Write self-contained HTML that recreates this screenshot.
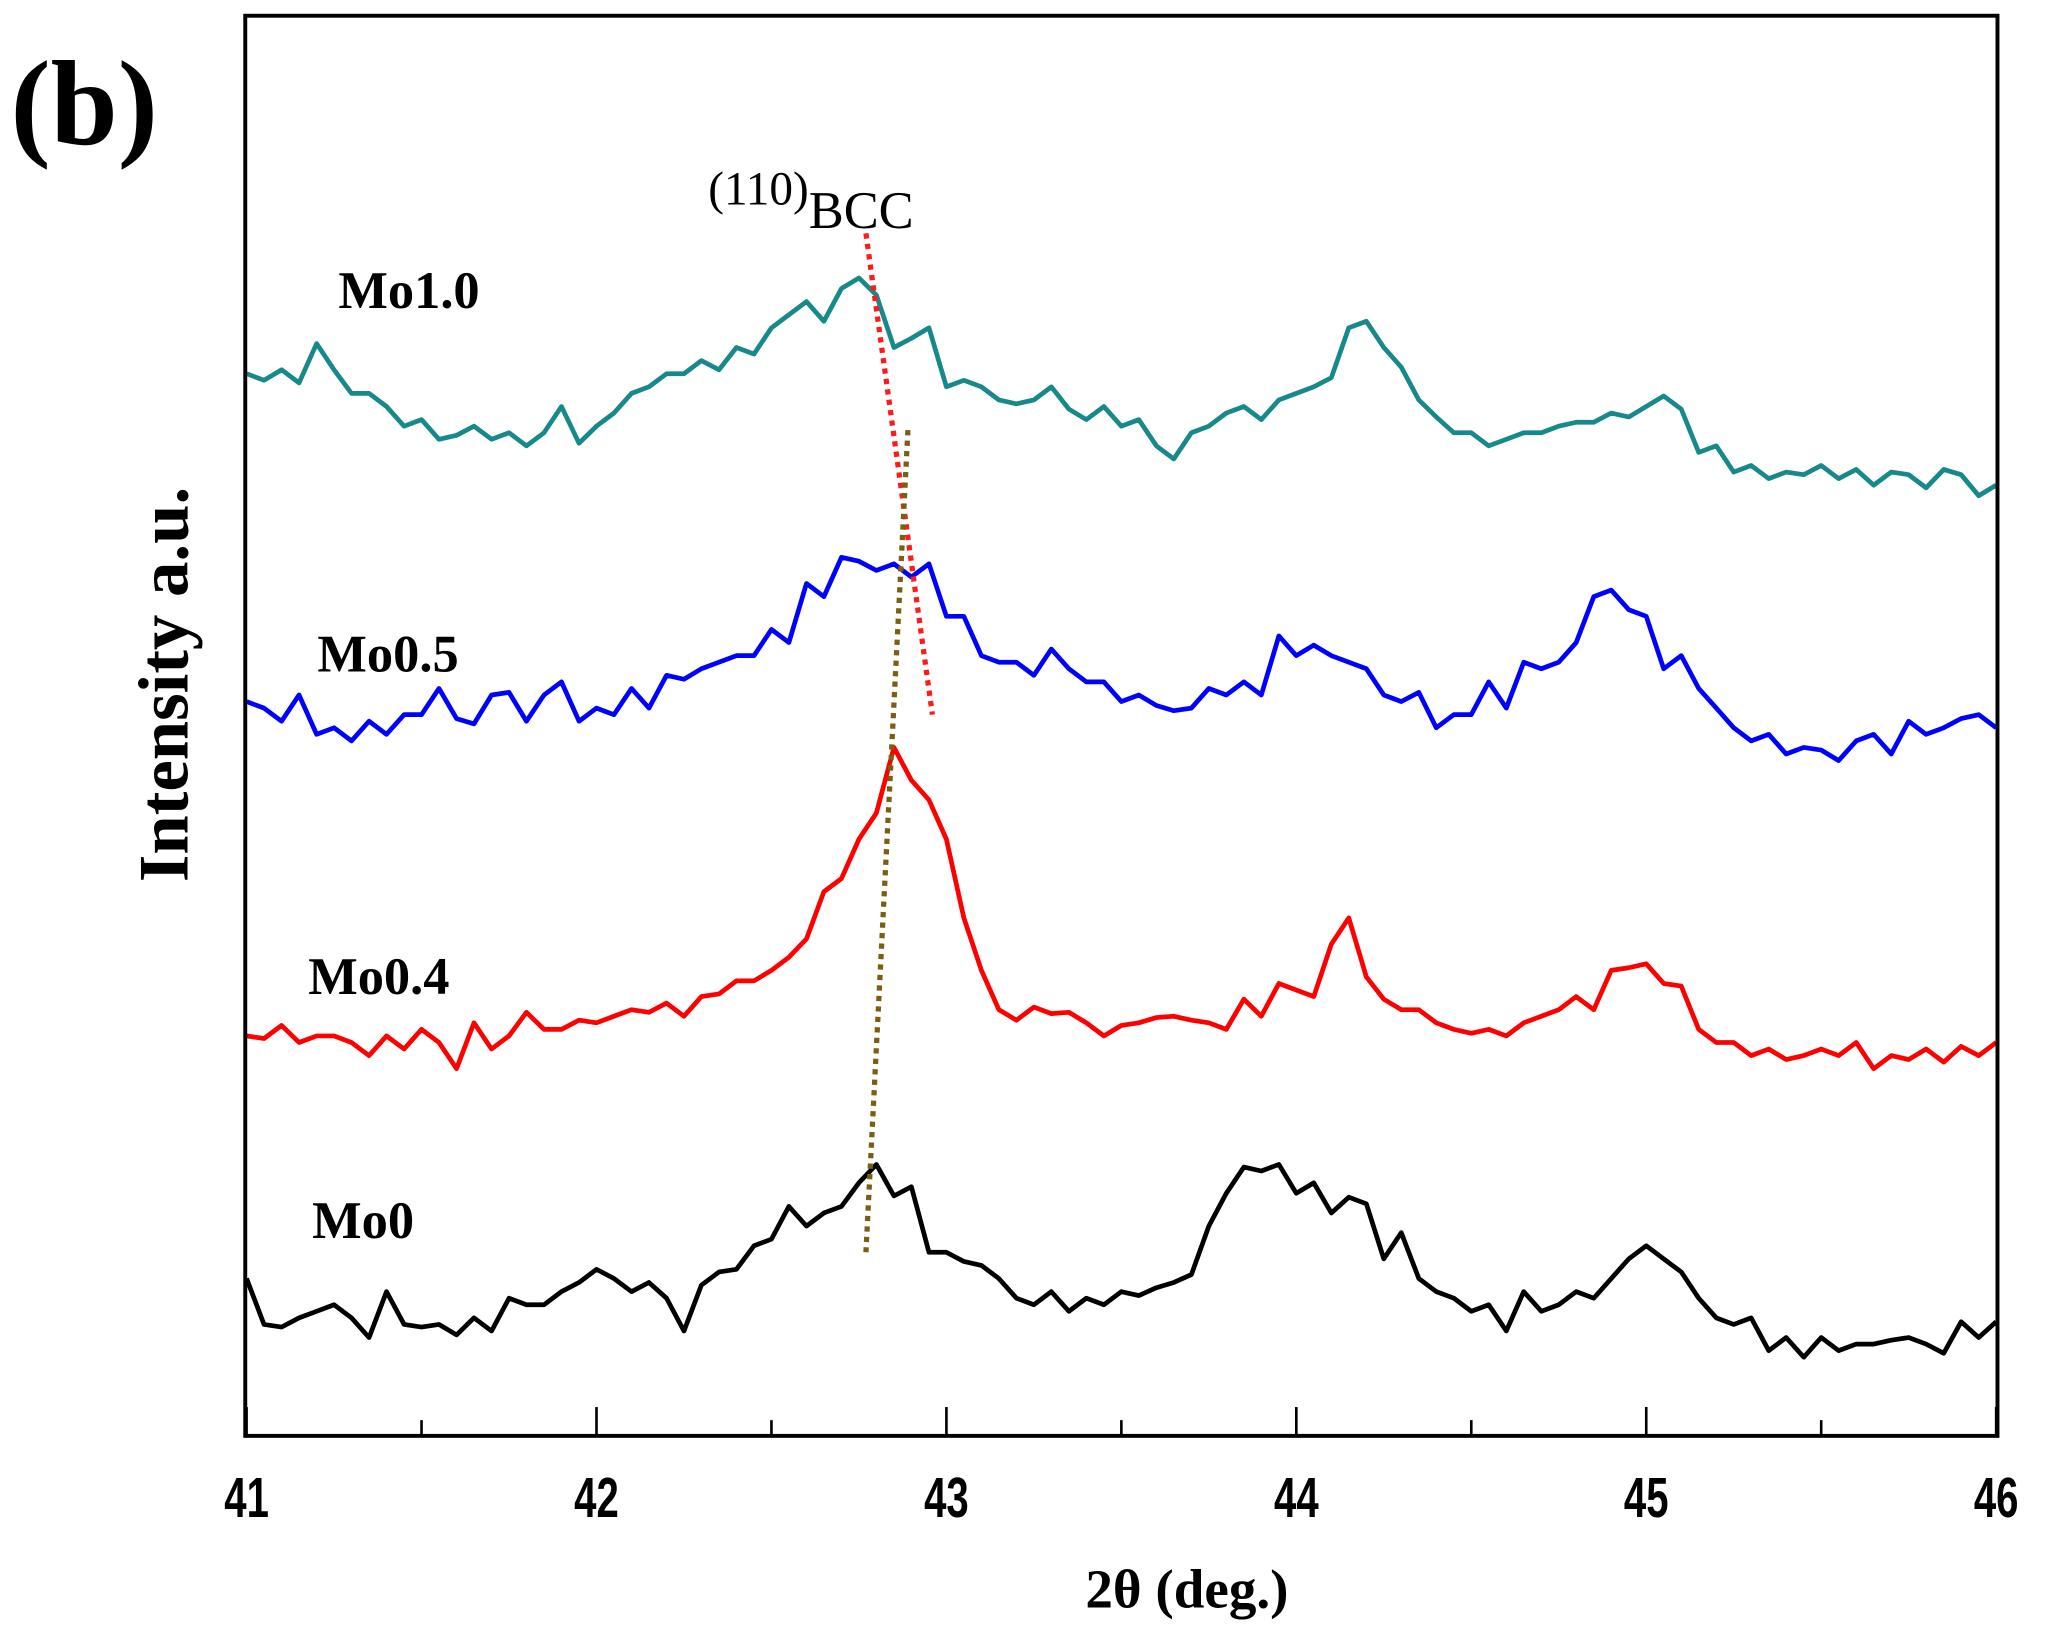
<!DOCTYPE html>
<html>
<head>
<meta charset="utf-8">
<style>
html,body{margin:0;padding:0;background:#fff;}
svg{display:block;}
</style>
</head>
<body>
<svg id="chart" width="2046" height="1647" viewBox="0 0 1560 1256" preserveAspectRatio="none" xmlns="http://www.w3.org/2000/svg">
  <rect x="0" y="0" width="1560" height="1256" fill="#fff"/>
  <text x="8" y="110" font-family="Liberation Serif, serif" font-weight="bold" font-size="92" fill="#000">(b)</text>
  <g id="plot"></g>
  <rect x="187" y="12" width="1336" height="1083" fill="none" stroke="#000" stroke-width="3"/>
  <g id="ticks"></g>
  <text x="905" y="1226" text-anchor="middle" font-family="Liberation Serif, serif" font-weight="bold" font-size="42" fill="#000">2θ (deg.)</text>
  <text transform="translate(143,522) rotate(-90)" text-anchor="middle" font-family="Liberation Serif, serif" font-weight="bold" font-size="54" fill="#000">Intensity a.u.</text>
  <text x="540" y="156" font-family="Liberation Serif, serif" font-size="36" fill="#000">(110)<tspan dy="18" font-size="40">BCC</tspan></text>
  <text x="258" y="235" font-family="Liberation Serif, serif" font-weight="bold" font-size="40" fill="#000">Mo1.0</text>
  <text x="242" y="512" font-family="Liberation Serif, serif" font-weight="bold" font-size="40" fill="#000">Mo0.5</text>
  <text x="235" y="758" font-family="Liberation Serif, serif" font-weight="bold" font-size="40" fill="#000">Mo0.4</text>
  <text x="238" y="944" font-family="Liberation Serif, serif" font-weight="bold" font-size="40" fill="#000">Mo0</text>
</svg>
<script>
const thetaStart = 41;
const thetaStep = 0.05;
const xTicks = [41, 42, 43, 44, 45, 46];
const xMinorTicks = [41.5, 42.5, 43.5, 44.5, 45.5];
const mo10 = [815,810,818,808,838,818,800,800,790,775,780,765,768,775,765,770,760,770,790,762,775,785,800,805,815,815,825,818,835,830,850,860,870,855,880,888,875,835,842,850,805,810,805,795,792,795,805,788,780,790,775,780,760,750,770,775,785,790,780,795,800,805,812,850,855,835,820,795,782,770,770,760,765,770,770,775,778,778,785,782,790,798,788,755,760,740,745,735,740,738,745,735,742,730,740,738,728,742,738,722,730];
const mo05 = [565,560,550,570,540,545,535,550,540,555,555,575,552,548,570,572,550,570,580,550,560,555,575,560,585,582,590,595,600,600,620,610,655,645,675,672,665,670,660,670,630,630,600,595,595,585,605,590,580,580,565,570,562,558,560,575,570,580,570,615,600,608,600,595,590,570,565,572,545,555,555,580,560,595,590,595,610,645,650,635,630,590,600,575,560,545,535,540,525,530,528,520,535,540,525,550,540,545,552,555,545];
const mo04 = [310,308,318,305,310,310,305,295,310,300,315,305,285,320,300,310,328,315,315,322,320,325,330,328,335,325,340,342,352,352,360,370,384,420,430,460,480,530,505,490,460,400,360,330,322,332,327,328,320,310,318,320,324,325,322,320,315,338,325,350,345,340,380,400,355,338,330,330,320,315,312,315,310,320,325,330,340,330,360,362,365,350,348,315,305,305,295,300,292,295,300,295,305,285,295,292,300,290,302,295,305];
const mo0 = [125,90,88,95,100,105,95,80,115,90,88,90,82,95,85,110,105,105,115,122,132,125,115,122,110,85,120,130,132,150,155,180,165,175,180,198,212,188,195,145,145,138,135,125,110,105,115,100,110,105,115,112,118,122,128,165,190,210,207,212,190,198,175,187,182,140,160,125,115,110,100,105,85,115,100,105,115,110,125,140,150,140,130,110,95,90,95,70,80,65,80,70,75,75,78,80,75,68,92,80,92];
const seriesNames = ['mo1-0', 'mo0-5', 'mo0-4', 'mo0'];
const seriesColors = ['#17898a', '#0000ff', '#ff0000', '#000000'];
const seriesValues = [mo10, mo05, mo04, mo0];
const redGuide = [[42.77, 922], [42.96, 555]];
const brownGuide = [[42.89, 772], [42.77, 145]];

function xScale(t) { return 188 + (t - 41) * (1522 - 188) / 5; }
function yScale(v) { return 1100 - v; }
const NS = 'http://www.w3.org/2000/svg';
const plot = document.getElementById('plot');
const ticks = document.getElementById('ticks');

seriesValues.forEach(function (vals, s) {
  let d = '';
  vals.forEach(function (v, i) {
    const t = thetaStart + i * thetaStep;
    d += (i ? 'L' : 'M') + xScale(t).toFixed(1) + ',' + yScale(v).toFixed(1);
  });
  const p = document.createElementNS(NS, 'path');
  p.setAttribute('d', d);
  p.setAttribute('fill', 'none');
  p.setAttribute('stroke', seriesColors[s]);
  p.setAttribute('stroke-width', '3.6');
  p.setAttribute('stroke-linejoin', 'round');
  
  
  plot.appendChild(p);
});

function guide(pts, color, name) {
  const l = document.createElementNS(NS, 'line');
  l.setAttribute('x1', xScale(pts[0][0]));
  l.setAttribute('y1', yScale(pts[0][1]));
  l.setAttribute('x2', xScale(pts[1][0]));
  l.setAttribute('y2', yScale(pts[1][1]));
  l.setAttribute('stroke', color);
  l.setAttribute('stroke-width', '4');
  l.setAttribute('stroke-dasharray', '4 4');
  
  
  plot.appendChild(l);
}
guide(redGuide, '#ff1a1a', 'red-guide-line');
guide(brownGuide, '#7a5f10', 'brown-guide-line');

xTicks.forEach(function (t) {
  const x = xScale(t);
  const l = document.createElementNS(NS, 'line');
  l.setAttribute('x1', x); l.setAttribute('x2', x);
  l.setAttribute('y1', 1095); l.setAttribute('y2', 1073);
  l.setAttribute('stroke', '#000'); l.setAttribute('stroke-width', '2');
  
  
  ticks.appendChild(l);
  const tx = document.createElementNS(NS, 'text');
  tx.setAttribute('transform', 'translate(' + x + ',1157) scale(0.85,1.2)');
  tx.setAttribute('text-anchor', 'middle');
  tx.setAttribute('font-family', 'Liberation Sans, sans-serif');
  tx.setAttribute('font-weight', 'bold');
  tx.setAttribute('font-size', '36');
  tx.textContent = String(t);
  
  
  ticks.appendChild(tx);
});
xMinorTicks.forEach(function (t) {
  const x = xScale(t);
  const l = document.createElementNS(NS, 'line');
  l.setAttribute('x1', x); l.setAttribute('x2', x);
  l.setAttribute('y1', 1095); l.setAttribute('y2', 1083);
  l.setAttribute('stroke', '#000'); l.setAttribute('stroke-width', '2');
  
  
  ticks.appendChild(l);
});
</script>
</body>
</html>
